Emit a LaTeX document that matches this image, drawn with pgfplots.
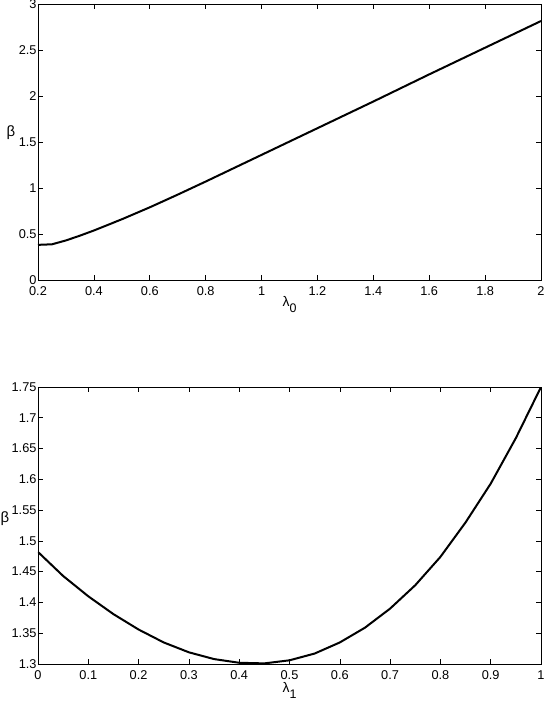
\documentclass[border=0pt]{standalone}
\usepackage{pgfplots}
\pgfplotsset{compat=1.18}
\usepackage{fontspec}
\setmainfont{Liberation Sans}
\begin{document}
\begin{tikzpicture}
\path[use as bounding box] (-38bp,-421bp) rectangle (506bp,280bp);
\pgfplotsset{every axis/.append style={
  scale only axis, width=503bp, height=276bp,
  tick align=inside, major tick length=5bp,
  font=\fontsize{12.8}{14}\selectfont,
  /pgf/number format/assume math mode=true,
  axis line style={line width=0.9bp},
  every tick/.style={black, line width=0.6bp},
  xticklabel style={yshift=-3bp},
  yticklabel style={xshift=2bp},
  axis on top,
}}
\begin{axis}[
  at={(0,0)}, anchor=south west,
  xmin=0.2, xmax=2, ymin=0, ymax=3,
  xtick={0.2,0.4,...,2.01}, ytick={0,0.5,...,3.01},
  xticklabels={0.2,0.4,0.6,0.8,1,1.2,1.4,1.6,1.8,2},
  yticklabels={0,0.5,1,1.5,2,2.5,3},
  xlabel={λ\raisebox{-0.8ex}{\fontsize{12.5}{14}\selectfont 0}},
  every axis x label/.style={at={(axis description cs:0.5,0)}, anchor=north, yshift=-13bp, font=\fontsize{14}{16}\selectfont},
  ylabel={β},
  every axis y label/.style={at={(axis description cs:0,0.5)}, anchor=center, xshift=-27bp, yshift=9bp, font=\fontsize{15}{17}\selectfont},
]
\addplot[black, line width=2bp] coordinates {
(0.2,0.382) (0.25,0.388) (0.3,0.43) (0.35,0.482) (0.4,0.538) (0.5,0.66) (0.6,0.79)
(0.7,0.928) (0.8,1.07) (0.9,1.215) (1.0,1.36) (1.2,1.65) (1.4,1.94) (1.6,2.235)
(1.8,2.525) (2.0,2.815)};
\end{axis}
\begin{axis}[
  at={(0,-384bp)}, anchor=south west, height=277bp,
  xmin=0, xmax=1, ymin=1.3, ymax=1.75,
  xtick={0,0.1,...,1.01}, ytick={1.3,1.35,...,1.751},
  xticklabels={0,0.1,0.2,0.3,0.4,0.5,0.6,0.7,0.8,0.9,1},
  yticklabels={1.3,1.35,1.4,1.45,1.5,1.55,1.6,1.65,1.7,1.75},
  xlabel={λ\raisebox{-0.8ex}{\fontsize{12.5}{14}\selectfont 1}},
  every axis x label/.style={at={(axis description cs:0.5,0)}, anchor=north, yshift=-15bp, font=\fontsize{14}{16}\selectfont},
  ylabel={β},
  every axis y label/.style={at={(axis description cs:0,0.5)}, anchor=center, xshift=-33bp, yshift=7bp, font=\fontsize{15}{17}\selectfont},
]
\addplot[black, line width=2bp] coordinates {
(0,1.482) (0.05,1.443) (0.1,1.41) (0.15,1.381) (0.2,1.356) (0.25,1.335) (0.3,1.319)
(0.35,1.308) (0.4,1.302) (0.45,1.301) (0.5,1.306) (0.55,1.317) (0.6,1.335)
(0.65,1.359) (0.7,1.39) (0.75,1.428) (0.8,1.474) (0.85,1.53) (0.9,1.593)
(0.95,1.667) (1.0,1.75)};
\end{axis}
\end{tikzpicture}
\end{document}
